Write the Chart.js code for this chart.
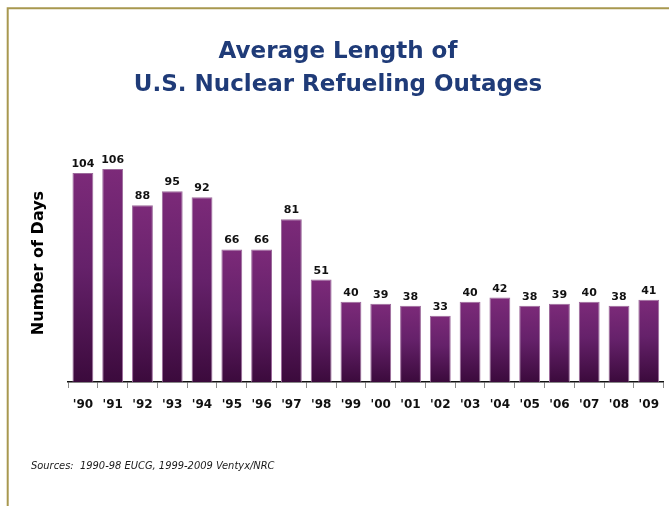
<!DOCTYPE html>
<html>
<head>
<meta charset="utf-8">
<script src="https://cdn.jsdelivr.net/npm/chart.js@4.4.1/dist/chart.umd.min.js"></script>
<style>
  html, body { margin: 0; padding: 0; background: #fff; }
  #wrap { width: 669px; height: 506px; }
</style>
</head>
<body>
<div id="wrap"><canvas id="outageChart" width="669" height="506"></canvas></div>
<script>
// Average refueling outage length, days per year
const years = ["'90", "'91", "'92", "'93", "'94", "'95", "'96", "'97", "'98", "'99",
               "'00", "'01", "'02", "'03", "'04", "'05", "'06", "'07", "'08", "'09"];
const outageDays = [104, 106, 88, 95, 92, 66, 66, 81, 51, 40, 39, 38, 33, 40, 42, 38, 39, 40, 38, 41];
const titleLines = ['Average Length of', 'U.S. Nuclear Refueling Outages'];
const yTitle = 'Number of Days';
const sourceNote = 'Sources:  1990-98 EUCG, 1999-2009 Ventyx/NRC';

const CONDENSED = "'DejaVu Sans Condensed', 'DejaVu Sans', sans-serif";
const WIDE = "'DejaVu Sans', Verdana, sans-serif";

// per-bar gradient, light purple on top fading to dark plum at the base
function barGradient(ctx) {
    const chart = ctx.chart;
    const area = chart.chartArea;
    if (!area || ctx.parsed == null) return '#5a1a58';
    const yScale = chart.scales.y;
    const top = yScale.getPixelForValue(ctx.parsed.y);
    const bottom = yScale.getPixelForValue(0);
    const g = chart.ctx.createLinearGradient(0, top, 0, bottom);
    g.addColorStop(0, '#7c2a79');
    g.addColorStop(0.45, '#65216a');
    g.addColorStop(1, '#3b0a3c');
    return g;
}

const framePlugin = {
    id: 'frame',
    beforeDraw(chart) {
        const c = chart.ctx;
        c.save();
        c.fillStyle = '#ffffff';
        c.fillRect(0, 0, chart.width, chart.height);
        c.strokeStyle = '#a8984f';
        c.lineWidth = 2;
        c.beginPath();
        c.moveTo(7.7, chart.height);
        c.lineTo(7.7, 8.3);
        c.lineTo(chart.width, 8.3);
        c.stroke();

        c.fillStyle = '#1f3b78';
        c.font = "bold 23px " + WIDE;
        c.textAlign = 'center';
        c.textBaseline = 'alphabetic';
        c.fillText(titleLines[0], 338, 58);
        c.fillText(titleLines[1], 338, 91);

        c.fillStyle = '#1a1a1a';
        c.font = "italic 11px " + CONDENSED;
        c.textAlign = 'left';
        c.textBaseline = 'middle';
        c.fillText(sourceNote, 31, 466);

        // rotated axis title
        c.translate(39, 263);
        c.rotate(-Math.PI / 2);
        c.fillStyle = '#000000';
        c.font = "bold 16px " + WIDE;
        c.textAlign = 'center';
        c.textBaseline = 'middle';
        c.fillText(yTitle, 0, 0);
        c.restore();
    },
    afterDatasetsDraw(chart) {
        const c = chart.ctx;
        const meta = chart.getDatasetMeta(0);
        c.save();
        c.fillStyle = '#111111';
        c.font = "bold 11px " + WIDE;
        c.textAlign = 'center';
        c.textBaseline = 'alphabetic';
        meta.data.forEach((bar, i) => {
            c.fillText(String(outageDays[i]), bar.x, bar.y - 6);
        });
        c.restore();
    }
};

new Chart(document.getElementById('outageChart'), {
    type: 'bar',
    data: {
        labels: years,
        datasets: [{
            data: outageDays,
            backgroundColor: barGradient,
            borderColor: '#9c6a9b',
            borderWidth: 1,
            categoryPercentage: 1.0,
            barPercentage: 0.7
        }]
    },
    options: {
        responsive: false,
        animation: false,
        layout: { padding: { top: 161, right: 1, left: 0, bottom: 0 } },
        plugins: {
            legend: { display: false },
            tooltip: { enabled: false },
            title: { display: false }
        },
        scales: {
            x: {
                grid: {
                    offset: true,
                    drawOnChartArea: false,
                    drawTicks: true,
                    tickLength: 6,
                    color: '#8a8a8a'
                },
                border: { display: true, color: '#111111', width: 1.5 },
                ticks: {
                    color: '#111111',
                    font: { family: WIDE, size: 12, weight: 'bold' },
                    padding: 10,
                    maxRotation: 0,
                    autoSkip: false
                },
                afterFit(scale) { scale.height = 124; }
            },
            y: {
                min: 0,
                max: 110,
                grid: { display: false },
                border: { display: false },
                ticks: { display: false },
                afterFit(scale) { scale.width = 68; }
            }
        }
    },
    plugins: [framePlugin]
});
</script>
</body>
</html>
